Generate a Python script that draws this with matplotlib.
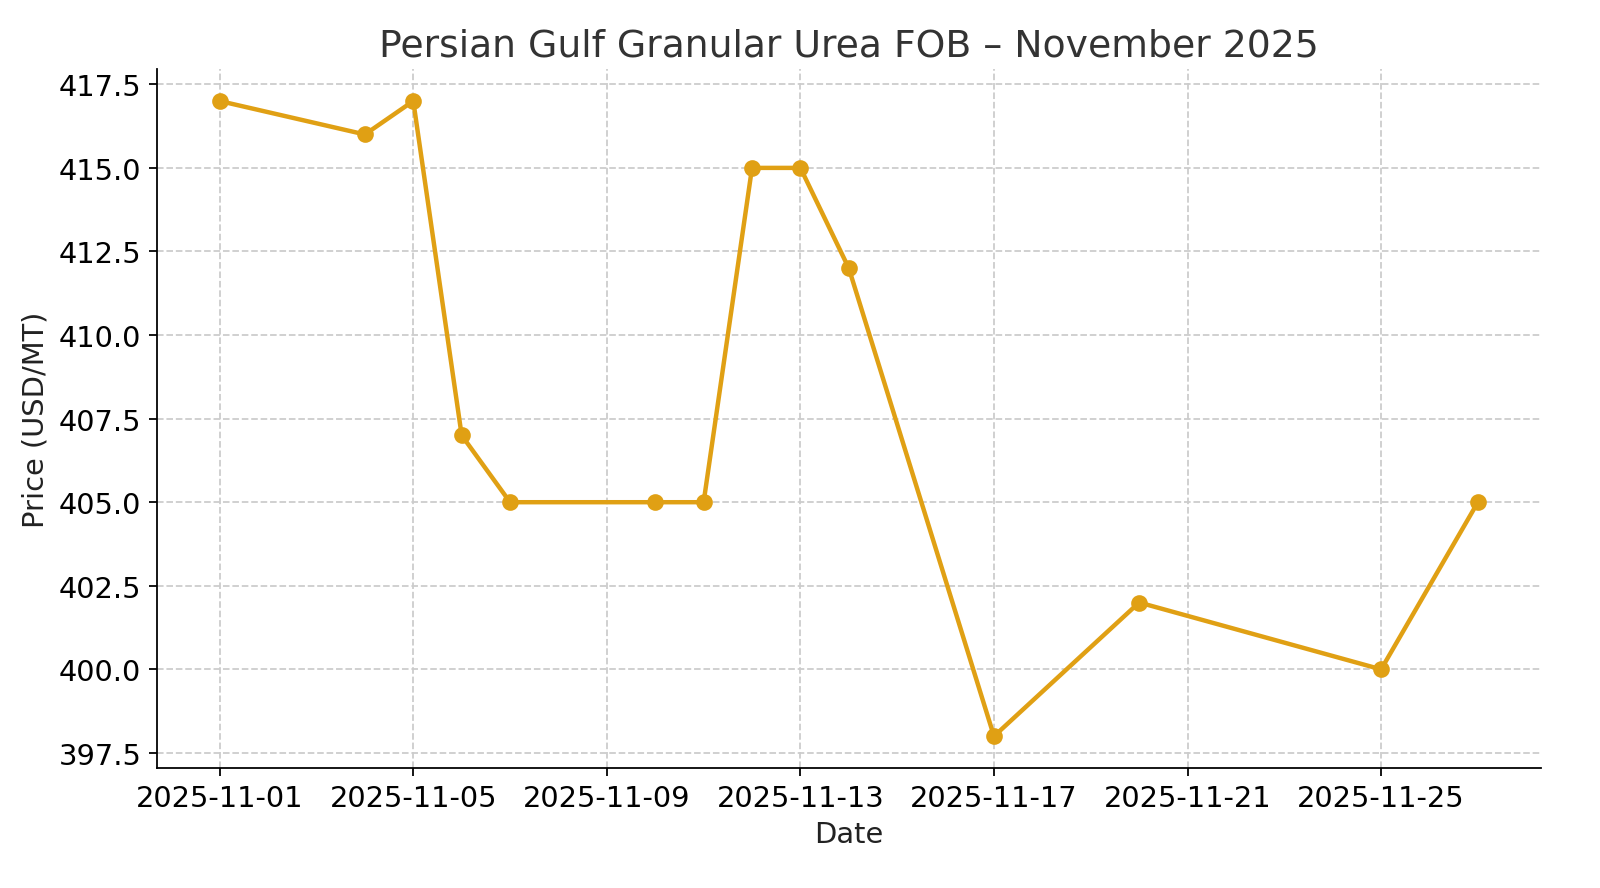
import matplotlib
matplotlib.use("Agg")
import matplotlib.pyplot as plt
import matplotlib.dates as mdates
import pandas as pd

dates = ["2025-11-01", "2025-11-04", "2025-11-05", "2025-11-06", "2025-11-07",
         "2025-11-10", "2025-11-11", "2025-11-12", "2025-11-13", "2025-11-14",
         "2025-11-17", "2025-11-20", "2025-11-25", "2025-11-27"]
prices = [417, 416, 417, 407, 405, 405, 405, 415, 415, 412, 398, 402, 400, 405]

x = pd.to_datetime(dates)

fig, ax = plt.subplots(figsize=(10, 5.556), dpi=160)
ax.plot(x, prices, marker="o", color="#E0A014", linewidth=2.0, markersize=6.5)

ax.set_title("Persian Gulf Granular Urea FOB \u2013 November 2025", fontsize=17, color="#333333")
ax.set_xlabel("Date", fontsize=13, color="#222222")
ax.set_ylabel("Price (USD/MT)", fontsize=13, color="#222222")
ax.tick_params(labelsize=13)

ax.xaxis.set_major_locator(mdates.DayLocator(bymonthday=[1, 5, 9, 13, 17, 21, 25]))
ax.xaxis.set_major_formatter(mdates.DateFormatter("%Y-%m-%d"))

ax.grid(True, linestyle="--", color="#cccccc", linewidth=0.8)
ax.spines["top"].set_visible(False)
ax.spines["right"].set_visible(False)

fig.subplots_adjust(left=0.098, right=0.963, top=0.921, bottom=0.135)
fig.savefig("out.png")
